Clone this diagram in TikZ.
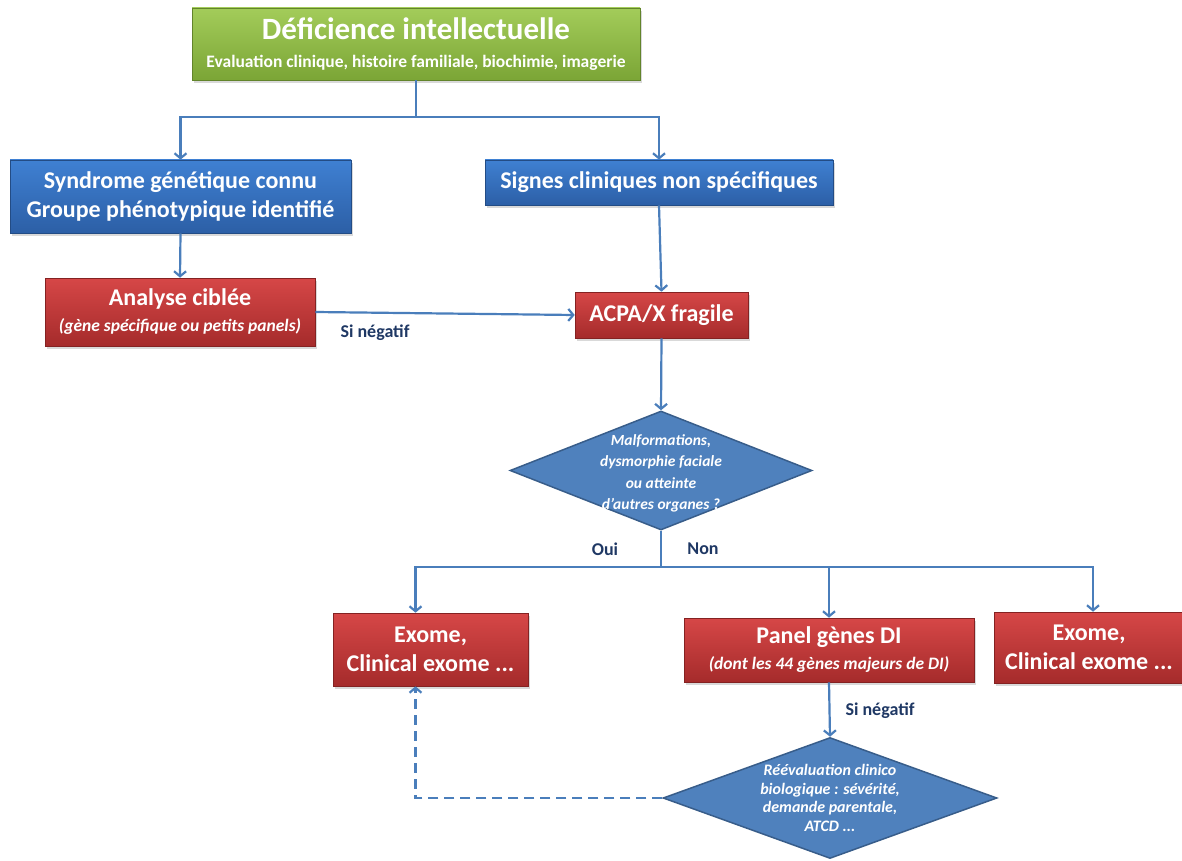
\documentclass[tikz,border=0pt]{standalone}
\usepackage{fontspec}
\setmainfont{Carlito}
\usetikzlibrary{arrows.meta,positioning,shapes.geometric,shadows}
\definecolor{greenTop}{HTML}{A3CC5A}
\definecolor{greenBot}{HTML}{7BA536}
\definecolor{blueTop}{HTML}{3F80D2}
\definecolor{blueBot}{HTML}{2C5FA6}
\definecolor{redTop}{HTML}{D64747}
\definecolor{redBot}{HTML}{A52B2B}
\definecolor{diaFill}{HTML}{4F81BD}
\definecolor{diaEdge}{HTML}{385D8A}
\definecolor{lineBlue}{HTML}{4A7EBB}
\definecolor{navy}{HTML}{1F3864}

\begin{document}
\begin{tikzpicture}[x=1pt,y=-1pt,
    box/.style={text=white, align=center, inner sep=0pt,
      font=\bfseries\fontsize{24}{29}\selectfont,
      drop shadow={shadow xshift=2pt, shadow yshift=-3pt, opacity=0.3}},
    greenbox/.style={box, top color=greenTop, bottom color=greenBot, draw=greenBot!80!black, line width=0.6pt},
    bluebox/.style={box, top color=blueTop, bottom color=blueBot, draw=blueBot!80!black, line width=0.6pt},
    redbox/.style={box, top color=redTop, bottom color=redBot, draw=redBot!80!black, line width=0.6pt},
    decision/.style={diamond, draw=diaEdge, line width=1.5pt, fill=diaFill,
      inner sep=0pt, aspect=2.5},
    dtext/.style={text=white, align=center, font=\bfseries\itshape\fontsize{15.5}{21.5}\selectfont},
    note/.style={text=navy, font=\bfseries\fontsize{18}{21}\selectfont},
    line/.style={draw=lineBlue, line width=2.2pt},
    arrow/.style={line, -{Straight Barb[length=5pt,width=12pt]}}]
  \useasboundingbox (0,0) rectangle (1182,861);

  % top
  \node[greenbox, minimum width=448pt, minimum height=72pt] (DI) at (416,44)
    {{\fontsize{31}{34}\selectfont Déficience intellectuelle}\\[-1pt]
     {\fontsize{17.5}{20}\selectfont Evaluation clinique, histoire familiale, biochimie, imagerie}};

  \node[bluebox, minimum width=341pt, minimum height=73pt] (syn) at (180.5,196.5)
    {Syndrome génétique connu\\Groupe phénotypique identifié};
  \node[bluebox, minimum width=348pt, minimum height=45pt] (signes) at (659,182.5)
    {Signes cliniques non spécifiques};

  \coordinate (split) at (416,117);
  \draw[line] (DI.south) -- (split);
  \draw[arrow] (split) -| (syn.north);
  \draw[arrow] (split) -| (signes.north);

  % second row
  \node[redbox, minimum width=270pt, minimum height=68pt] (ana) at (180,312)
    {Analyse ciblée\\[-3pt]{\fontsize{17.5}{20}\selectfont\itshape (gène spécifique ou petits panels)}};
  \node[redbox, minimum width=173pt, minimum height=46pt] (acpa) at (661.5,315)
    {ACPA/X fragile};
  \draw[arrow] (syn.south) -- (ana.north);
  \draw[arrow] (signes.south) -- (acpa.north);
  \draw[arrow] (ana.east) -- (acpa.west);
  \node[note] (neg1) at (375,333) {Si négatif};

  % first question
  \node[decision, minimum width=302pt, minimum height=119pt,
    label={[dtext, yshift=-3pt]center:{Malformations,\\dysmorphie faciale\\ou atteinte\\d’autres organes ?}}]
    (q1) at (661,470.5) {};
  \draw[arrow] (acpa.south) -- (q1.north);

  \coordinate (fork) at (661,567);
  \draw[line] (q1.south) -- (fork);
  \node[note] (oui) at (605,549) {Oui};
  \node[note] (non) at (703,549) {Non};

  % third row
  \node[redbox, minimum width=195pt, minimum height=73pt] (exoA) at (430.5,649.5)
    {Exome,\\Clinical exome ...};
  \node[redbox, minimum width=290pt, minimum height=64pt] (panel) at (829,650)
    {Panel gènes DI\\[-3pt]{\fontsize{17.5}{20}\selectfont\itshape (dont les 44 gènes majeurs de DI)}};
  \node[redbox, minimum width=190pt, minimum height=71pt] (exoB) at (1089,647.5)
    {Exome,\\Clinical exome ...};
  \draw[arrow] (fork) -| ([xshift=-15pt]exoA.north);
  \draw[arrow] (fork) -| ([xshift=4pt]exoB.north);
  \draw[arrow] (fork -| panel.north) -- (panel.north);

  % second question
  \node[decision, minimum width=334pt, minimum height=121pt,
    label={[dtext, font=\bfseries\itshape\fontsize{16}{18.6}\selectfont]center:{Réévaluation clinico\\biologique : sévérité,\\demande parentale,\\ATCD ...}}]
    (q2) at (830,798) {};
  \draw[arrow] (panel.south) -- (q2.north);
  \node[note] (neg2) at (880,711) {Si négatif};
  \draw[arrow, dashed, dash pattern=on 10pt off 6pt] (q2.west) -| ([xshift=-15pt]exoA.south);
\end{tikzpicture}
\end{document}
